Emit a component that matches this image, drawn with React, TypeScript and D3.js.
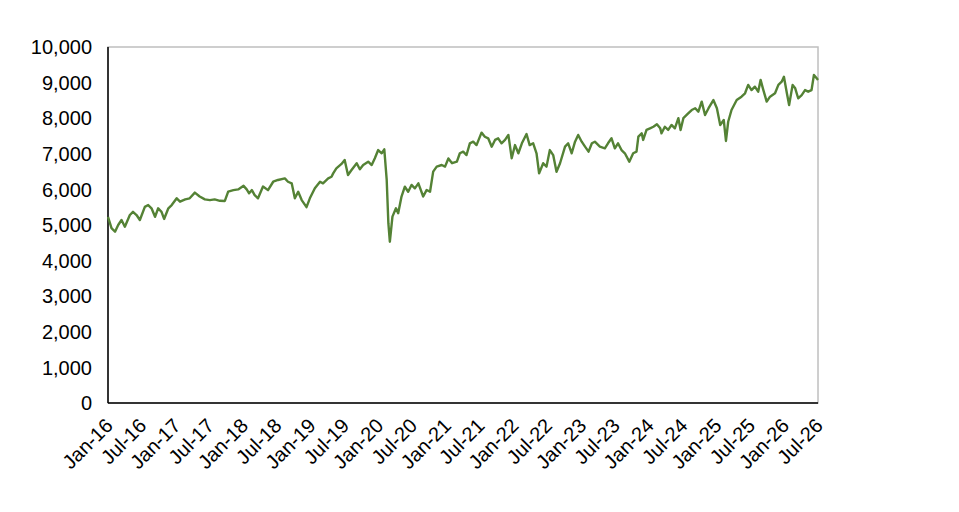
import React from 'react';
import * as d3 from 'd3';

// index level
const dates: string[] = [
  '2016-01-01', '2016-01-20', '2016-02-08', '2016-02-25', '2016-03-14', '2016-04-01', '2016-04-28', '2016-05-15',
  '2016-06-03', '2016-06-21', '2016-07-18', '2016-08-05', '2016-08-23', '2016-09-11', '2016-09-28', '2016-10-16',
  '2016-10-30', '2016-11-22', '2016-12-10', '2017-01-06', '2017-01-24', '2017-02-21', '2017-03-17', '2017-04-14',
  '2017-05-10', '2017-06-07', '2017-07-04', '2017-07-30', '2017-08-27', '2017-09-23', '2017-10-11', '2017-11-08',
  '2017-12-04', '2018-01-02', '2018-01-19', '2018-02-01', '2018-02-16', '2018-03-03', '2018-03-21', '2018-04-17',
  '2018-05-14', '2018-06-11', '2018-07-07', '2018-08-13', '2018-08-30', '2018-09-19', '2018-10-06', '2018-10-24',
  '2018-11-12', '2018-12-08', '2018-12-26', '2019-01-22', '2019-02-19', '2019-03-07', '2019-04-04', '2019-04-22',
  '2019-05-01', '2019-05-18', '2019-06-15', '2019-07-02', '2019-07-20', '2019-08-08', '2019-09-05', '2019-09-22',
  '2019-10-10', '2019-11-06', '2019-11-25', '2019-12-12', '2019-12-30', '2020-01-18', '2020-02-01', '2020-02-14',
  '2020-02-23', '2020-03-02', '2020-03-16', '2020-04-04', '2020-04-16', '2020-05-04', '2020-05-22', '2020-06-09',
  '2020-06-27', '2020-07-15', '2020-08-03', '2020-08-29', '2020-09-17', '2020-10-05', '2020-10-22', '2020-11-10',
  '2020-12-07', '2020-12-25', '2021-01-12', '2021-02-01', '2021-02-27', '2021-03-15', '2021-04-02', '2021-04-20',
  '2021-05-08', '2021-05-26', '2021-06-13', '2021-07-10', '2021-07-28', '2021-08-15', '2021-09-03', '2021-09-21',
  '2021-10-08', '2021-10-26', '2021-11-14', '2021-12-02', '2021-12-20', '2022-01-07', '2022-01-25', '2022-02-13',
  '2022-03-10', '2022-03-27', '2022-04-15', '2022-05-03', '2022-05-17', '2022-06-08', '2022-06-26', '2022-07-14',
  '2022-08-01', '2022-08-19', '2022-09-07', '2022-10-04', '2022-10-21', '2022-11-09', '2022-11-27', '2022-12-14',
  '2023-01-02', '2023-01-20', '2023-02-08', '2023-02-26', '2023-03-14', '2023-04-10', '2023-05-07', '2023-05-24',
  '2023-06-12', '2023-06-30', '2023-07-17', '2023-08-05', '2023-08-23', '2023-09-16', '2023-10-07', '2023-10-25',
  '2023-11-04', '2023-11-22', '2023-11-30', '2023-12-18', '2024-01-06', '2024-01-24', '2024-02-12', '2024-03-01',
  '2024-03-08', '2024-03-26', '2024-04-13', '2024-05-01', '2024-05-19', '2024-06-07', '2024-06-19', '2024-07-04',
  '2024-07-30', '2024-08-18', '2024-09-06', '2024-09-23', '2024-10-11', '2024-10-29', '2024-11-17', '2024-12-13',
  '2025-01-01', '2025-01-19', '2025-02-07', '2025-02-19', '2025-03-03', '2025-03-21', '2025-04-18', '2025-05-14',
  '2025-06-02', '2025-06-19', '2025-07-07', '2025-07-25', '2025-08-12', '2025-08-25', '2025-09-09', '2025-09-27',
  '2025-10-15', '2025-11-11', '2025-11-29', '2025-12-17', '2025-12-29', '2026-01-14', '2026-01-26', '2026-02-14',
  '2026-02-28', '2026-03-16', '2026-04-04', '2026-04-22', '2026-05-09', '2026-05-27', '2026-06-09', '2026-06-24',
  '2026-07-01',
];

const values: number[] = [
  5230, 4910, 4810, 5000, 5140, 4950, 5280, 5370,
  5280, 5140, 5510, 5560, 5470, 5230, 5470, 5370,
  5170, 5470, 5560, 5750, 5655, 5720, 5750, 5910,
  5800, 5720, 5700, 5720, 5680, 5675, 5940, 5980,
  6000, 6100, 6000, 5890, 5980, 5840, 5750, 6080,
  5980, 6215, 6265, 6310, 6215, 6170, 5750, 5935,
  5700, 5500, 5750, 6030, 6215, 6170, 6310, 6355,
  6450, 6590, 6715, 6825, 6405, 6545, 6735, 6565,
  6685, 6780, 6685, 6875, 7105, 7015, 7125, 6265,
  5050, 4530, 5235, 5470, 5330, 5800, 6075, 5935,
  6125, 6030, 6170, 5800, 5985, 5935, 6500, 6640,
  6685, 6640, 6870, 6735, 6780, 7015, 7060, 6965,
  7295, 7340, 7245, 7595, 7480, 7435, 7200, 7390,
  7435, 7295, 7390, 7530, 6875, 7245, 7015, 7295,
  7555, 7245, 7295, 7015, 6450, 6735, 6640, 7105,
  6965, 6495, 6735, 7200, 7295, 7015, 7340, 7530,
  7340, 7200, 7060, 7295, 7340, 7200, 7155, 7295,
  7435, 7155, 7295, 7105, 7015, 6780, 7015, 7060,
  7480, 7575, 7390, 7670, 7715, 7760, 7830, 7715,
  7575, 7760, 7670, 7810, 7715, 8000, 7670, 8000,
  8135, 8230, 8280, 8185, 8465, 8090, 8280, 8510,
  8280, 7810, 7950, 7360, 7900, 8230, 8510, 8605,
  8700, 8935, 8790, 8885, 8745, 9075, 8790, 8465,
  8605, 8700, 8935, 9025, 9165, 8700, 8370, 8935,
  8840, 8560, 8650, 8790, 8745, 8790, 9215, 9120,
  9075,
];

const yTicks: number[] = [0, 1000, 2000, 3000, 4000, 5000, 6000, 7000, 8000, 9000, 10000];

const xTickLabels: string[] = [
  'Jan-16', 'Jul-16', 'Jan-17', 'Jul-17', 'Jan-18', 'Jul-18', 'Jan-19', 'Jul-19', 'Jan-20', 'Jul-20', 'Jan-21',
  'Jul-21', 'Jan-22', 'Jul-22', 'Jan-23', 'Jul-23', 'Jan-24', 'Jul-24', 'Jan-25', 'Jul-25', 'Jan-26', 'Jul-26',
];

const W = 959;
const H = 512;
const margin = { top: 47, right: 141, bottom: 109, left: 108 };
const FONT = '"Liberation Sans", Arial, sans-serif';

export default function App() {
  const innerW = W - margin.left - margin.right;
  const innerH = H - margin.top - margin.bottom;

  const parse = d3.timeParse('%Y-%m-%d');
  const parseTick = d3.timeParse('%b-%y');
  const points = dates.map((d, i) => ({ date: parse(d) as Date, value: values[i] }));

  const x = d3.scaleTime()
    .domain([new Date(2016, 0, 1), new Date(2026, 6, 1)])
    .range([0, innerW]);

  const y = d3.scaleLinear()
    .domain([0, 10000])
    .range([innerH, 0]);

  const line = d3.line<{ date: Date; value: number }>()
    .x(d => x(d.date))
    .y(d => y(d.value));

  const fmt = d3.format(',');

  return (
    <div style={{ position: 'absolute', left: 0, top: 0 }}>
      <svg width={W} height={H} style={{ display: 'block', background: '#fff' }}>
        <g transform={`translate(${margin.left},${margin.top})`}>
          {/* plot frame */}
          <rect x={0} y={0} width={innerW} height={innerH} fill="none" stroke="#bfbfbf" strokeWidth={1.5} />
          <line x1={0} x2={0} y1={0} y2={innerH} stroke="#000" strokeWidth={1.5} />
          <line x1={0} x2={innerW} y1={innerH} y2={innerH} stroke="#000" strokeWidth={1.5} />

          {yTicks.map(t => (
            <text
              key={t}
              x={-16}
              y={y(t)}
              dy="0.36em"
              textAnchor="end"
              fontFamily={FONT}
              fontSize={20}
              fill="#000"
            >
              {fmt(t)}
            </text>
          ))}

          {xTickLabels.map(label => {
            const tx = x(parseTick(label) as Date);
            return (
              <text
                key={label}
                transform={`translate(${tx + 6},${innerH + 24}) rotate(-45)`}
                textAnchor="end"
                fontFamily={FONT}
                fontSize={20}
                fill="#000"
              >
                {label}
              </text>
            );
          })}

          <path d={line(points) || ''} fill="none" stroke="#548235" strokeWidth={2.4} strokeLinejoin="round" />
        </g>
      </svg>
    </div>
  );
}
